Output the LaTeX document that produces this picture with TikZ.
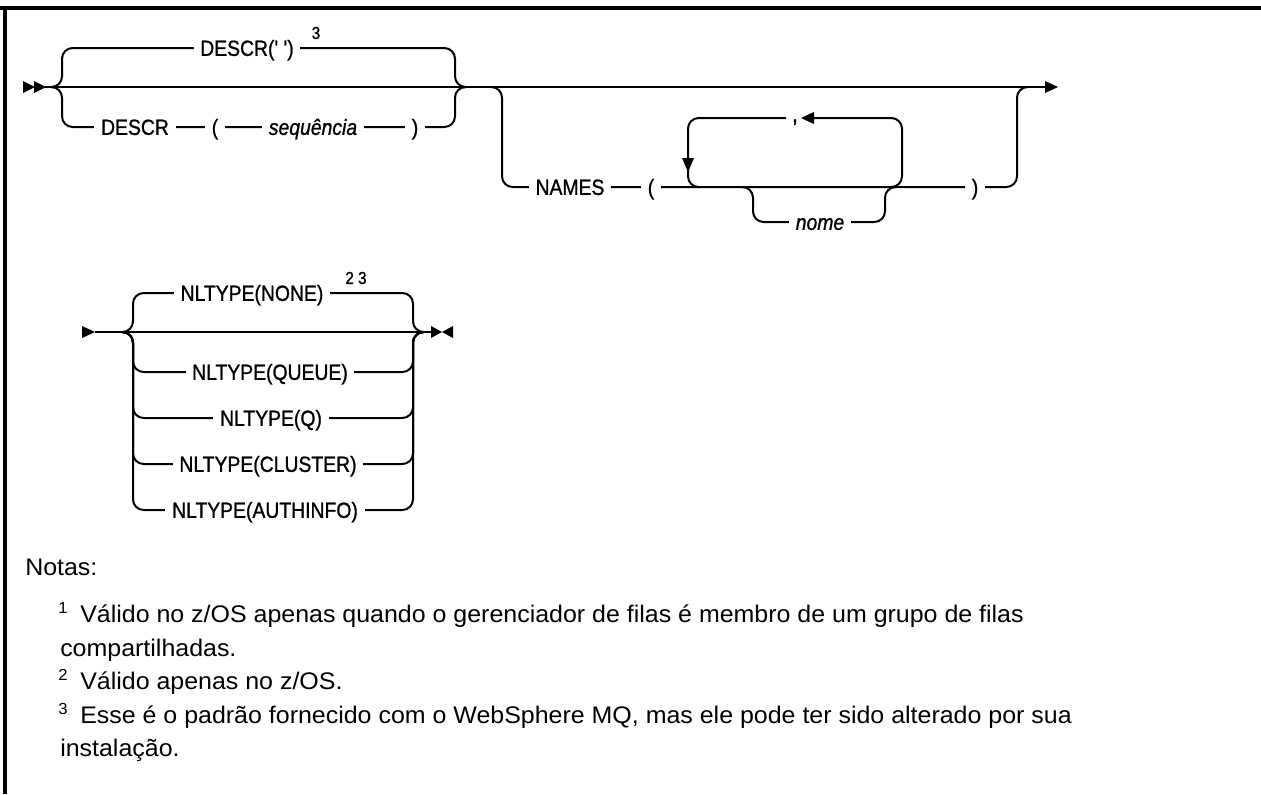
\documentclass[tikz,border=0pt]{standalone}
\usepackage{fontspec}
\setmainfont{Liberation Sans}
\newfontfamily\dfont[FakeStretch=0.88,FakeBold=1]{Liberation Sans}
\newfontfamily\nfont[FakeStretch=1.04]{Liberation Sans}
\begin{document}
\begin{tikzpicture}[x=0.75pt,y=-0.75pt,
  syn/.style={line width=1.5pt, line join=round, rounded corners=8},
  lbl/.style={font=\dfont\fontsize{16.5pt}{18pt}\selectfont, fill=white, inner xsep=5pt, inner ysep=0pt, text height=11.8pt, text depth=0pt},
  ilbl/.style={lbl, font=\dfont\fontsize{16.5pt}{18pt}\selectfont\itshape},
  sup/.style={font=\dfont\fontsize{13pt}{14pt}\selectfont, inner sep=0pt},
  tip/.style={fill=black},
  note/.style={font=\nfont\fontsize{18pt}{20pt}\selectfont, anchor=base west, inner sep=0pt},
  nsup/.style={font=\nfont\fontsize{12pt}{13pt}\selectfont, anchor=base west, inner sep=0pt},
  frame/.style={line width=2.5pt}]
\useasboundingbox (0,0) rectangle (1261,794);
% frame
\draw[frame] (0,8) -- (1261,8);
\draw[frame] (5,8) -- (5,794);

% ---------------- Row 1 ----------------
\coordinate (s1) at (45,87);
\coordinate (e1) at (1046,87);
\fill[tip] (23,81) -- (35,87) -- (23,93) -- cycle;
\fill[tip] (34,81) -- (46,87) -- (34,93) -- cycle;
\draw[syn] (s1) -- (e1);
\fill[tip] (1045,81) -- (1058,87) -- (1045,93) -- cycle;

% choice DESCR
\draw[syn] (54,87) -- (62,87) -- (62,48) -- (455,48) -- (455,87) -- (463,87);
\draw[syn] (54,87) -- (62,87) -- (62,127) -- (455,127) -- (455,87) -- (463,87);
\node[lbl] (d1) at (247,48) {DESCR(' ')};
\node[sup] (d1s) at (316,33) {3};
\node[lbl] (d2) at (135,127) {DESCR};
\node[lbl] (d3) at (215,127) {(};
\node[ilbl] (d4) at (313,127) {sequência};
\node[lbl] (d5) at (415,127) {)};

% choice NAMES
\draw[syn] (494,87) -- (502,87) -- (502,187) -- (1017,187) -- (1017,87) -- (1025,87);
\node[lbl] (n1) at (570,187) {NAMES};
\node[lbl] (n2) at (651,187) {(};
\node[lbl] (n3) at (975,187) {)};
% repeat loop
\draw[syn] (786,118) -- (688,118) -- (688,187) -- (700,187);
\draw[syn] (890,187) -- (902,187) -- (902,118) -- (814,118);
\fill[tip] (682,158) -- (694,158) -- (688,172) -- cycle;
\fill[tip] (814,112) -- (814,124) -- (801,118) -- cycle;
\node[font=\dfont\fontsize{18pt}{18pt}\selectfont, inner sep=0pt, anchor=base] (cm) at (795,122) {,};
% optional nome
\draw[syn] (745,187) -- (753,187) -- (753,222) -- (885,222) -- (885,187) -- (893,187);
\node[ilbl] (nm) at (820,222) {nome};

% ---------------- Row 2 ----------------
\coordinate (s2) at (95,332);
\coordinate (e2) at (432,332);
\fill[tip] (82,326) -- (95,332) -- (82,338) -- cycle;
\draw[syn] (s2) -- (e2);
\fill[tip] (431,326) -- (442,332) -- (431,338) -- cycle;
\fill[tip] (453,326) -- (442,332) -- (453,338) -- cycle;
\foreach \b in {293,372,418,464,510}{
  \draw[syn] (125,332) -- (133,332) -- (133,\b) -- (413,\b) -- (413,332) -- (421,332);
}
\node[lbl] (t1) at (252,293) {NLTYPE(NONE)};
\node[sup] (t1s) at (356,278) {2 3};
\node[lbl] (t2) at (270,372) {NLTYPE(QUEUE)};
\node[lbl] (t3) at (271,418) {NLTYPE(Q)};
\node[lbl] (t4) at (268,464) {NLTYPE(CLUSTER)};
\node[lbl] (t5) at (265,510) {NLTYPE(AUTHINFO)};

% ---------------- Notes ----------------
\node[note] (nt) at (25,575) {Notas:};
\node[nsup] (f1) at (58,613) {1};
\node[note] (l1) at (80,622) {Válido no z/OS apenas quando o gerenciador de filas é membro de um grupo de filas};
\node[note] (l1b) at (60,656) {compartilhadas.};
\node[nsup] (f2) at (58,680) {2};
\node[note] (l2) at (80,689) {Válido apenas no z/OS.};
\node[nsup] (f3) at (58,714) {3};
\node[note] (l3) at (80,723) {Esse é o padrão fornecido com o WebSphere MQ, mas ele pode ter sido alterado por sua};
\node[note] (l3b) at (60,756) {instalação.};
\end{tikzpicture}
\end{document}
